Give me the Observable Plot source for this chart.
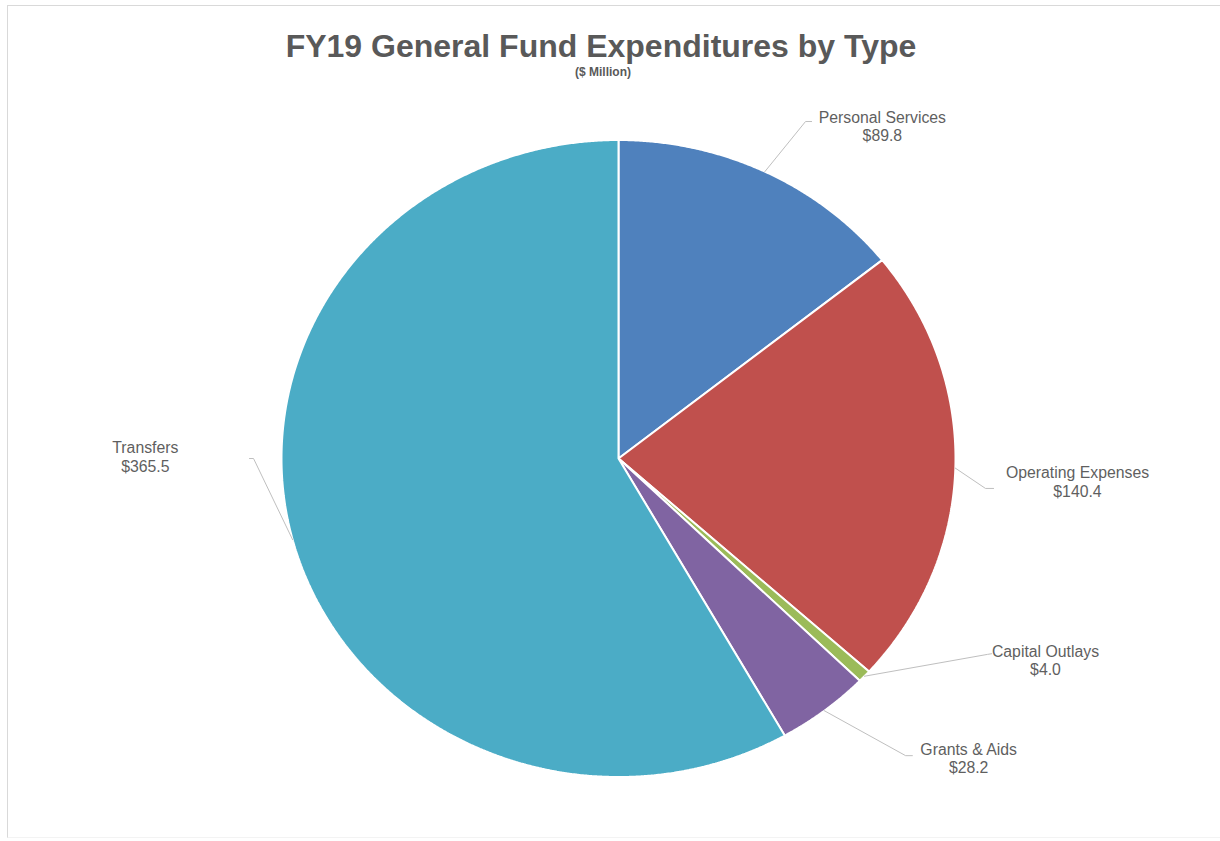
<!DOCTYPE html>
<html>
<head>
<meta charset="utf-8">
<script src="https://cdn.jsdelivr.net/npm/d3@7"></script>
<script src="https://cdn.jsdelivr.net/npm/@observablehq/plot@0.6"></script>
<style>
  body { margin: 0; background: #fff; font-family: "Liberation Sans", Arial, sans-serif; }
  #frame { position: relative; width: 1220px; height: 841px; overflow: hidden; }
  #border { position: absolute; left: 7px; top: 5px; right: -10px; bottom: 3px;
            border-top: 1px solid #d9d9d9; border-left: 1px solid #d9d9d9; border-bottom: 1px solid #f3f3f3; }
  #title { position: absolute; top: 30px; left: 0; width: 1202px; text-align: center;
           font-weight: bold; font-size: 32px; line-height: 32px; color: #595959; }
  #subtitle { position: absolute; top: 66px; left: 0; width: 1206px; text-align: center;
              font-weight: bold; font-size: 12px; line-height: 12px; color: #595959; }
  #chart { position: absolute; top: 90px; left: 0; }
</style>
</head>
<body>
<div id="frame">
  <div id="border"></div>
  <div id="title">FY19 General Fund Expenditures by Type</div>
  <div id="subtitle">($ Million)</div>
  <div id="chart"></div>
</div>
<script>
// FY19 General Fund expenditures, $ million, clockwise from 12 o'clock
const categories = ["Personal Services", "Operating Expenses", "Capital Outlays", "Grants & Aids", "Transfers"];
const amounts = [89.8, 140.4, 4.0, 28.2, 365.5];
const sliceColors = ["#4f81bd", "#c0504d", "#9bbb59", "#8064a2", "#4bacc6"];

// Label placement in pie units (unit circle, y up): leader elbow, leader end, text block centre
const labelLayout = [
  { elbow: [0.555, 1.058],  end: [0.573, 1.058],  text: [0.783, 1.044] },
  { elbow: [1.089, -0.094], end: [1.113, -0.094], text: [1.362, -0.072] },
  { elbow: [1.095, -0.615], end: [1.107, -0.613], text: [1.267, -0.633] },
  { elbow: [0.852, -0.933], end: [0.872, -0.933], text: [1.039, -0.940] },
  { elbow: [-1.083, 0.0],   end: [-1.095, 0.0],   text: [-1.404, 0.006] }
];

const rows = categories.map((name, i) => ({ name, value: amounts[i], color: sliceColors[i], layout: labelLayout[i] }));
const arcs = d3.pie().sort(null).value(d => d.value)(rows);

// Wedge outlines: centre, then points along the arc
const wedges = arcs.map(a => {
  const n = Math.max(4, Math.ceil((a.endAngle - a.startAngle) / 0.005));
  const pts = [{ x: 0, y: 0 }];
  for (let k = 0; k <= n; k++) {
    const t = a.startAngle + (a.endAngle - a.startAngle) * k / n;
    pts.push({ x: Math.sin(t), y: Math.cos(t) });
  }
  return { color: a.data.color, pts };
});

// Leader lines: from the rim at the slice's mid-angle to the label
const leaders = arcs.flatMap(a => {
  const mid = (a.startAngle + a.endAngle) / 2;
  const L = a.data.layout;
  return [
    { name: a.data.name, x: Math.sin(mid), y: Math.cos(mid) },
    { name: a.data.name, x: L.elbow[0], y: L.elbow[1] },
    { name: a.data.name, x: L.end[0], y: L.end[1] }
  ];
});

const labels = rows.map(d => ({
  x: d.layout.text[0], y: d.layout.text[1],
  label: d.name + "\n$" + d.value.toFixed(1)
}));

const chart = Plot.plot({
  width: 1220,
  height: 720,
  margin: 0,
  style: { fontFamily: "'Liberation Sans', Arial, sans-serif", background: "transparent" },
  x: { domain: [-1, 1], range: [281, 955], axis: null },
  y: { domain: [-1, 1], range: [686.5, 49.5], axis: null },
  marks: [
    ...wedges.map(w => Plot.line(w.pts, {
      x: "x", y: "y", curve: "linear-closed",
      fill: w.color, stroke: "white", strokeWidth: 2, strokeLinejoin: "miter"
    })),
    Plot.line(leaders, { x: "x", y: "y", z: "name", stroke: "#bfbfbf", strokeWidth: 1 }),
    Plot.text(labels, {
      x: "x", y: "y", text: "label",
      textAnchor: "middle", lineAnchor: "middle", lineHeight: 1.17,
      fontSize: 15.8, fill: "#5f5f5f"
    })
  ]
});
document.getElementById("chart").appendChild(chart);
</script>
</body>
</html>
